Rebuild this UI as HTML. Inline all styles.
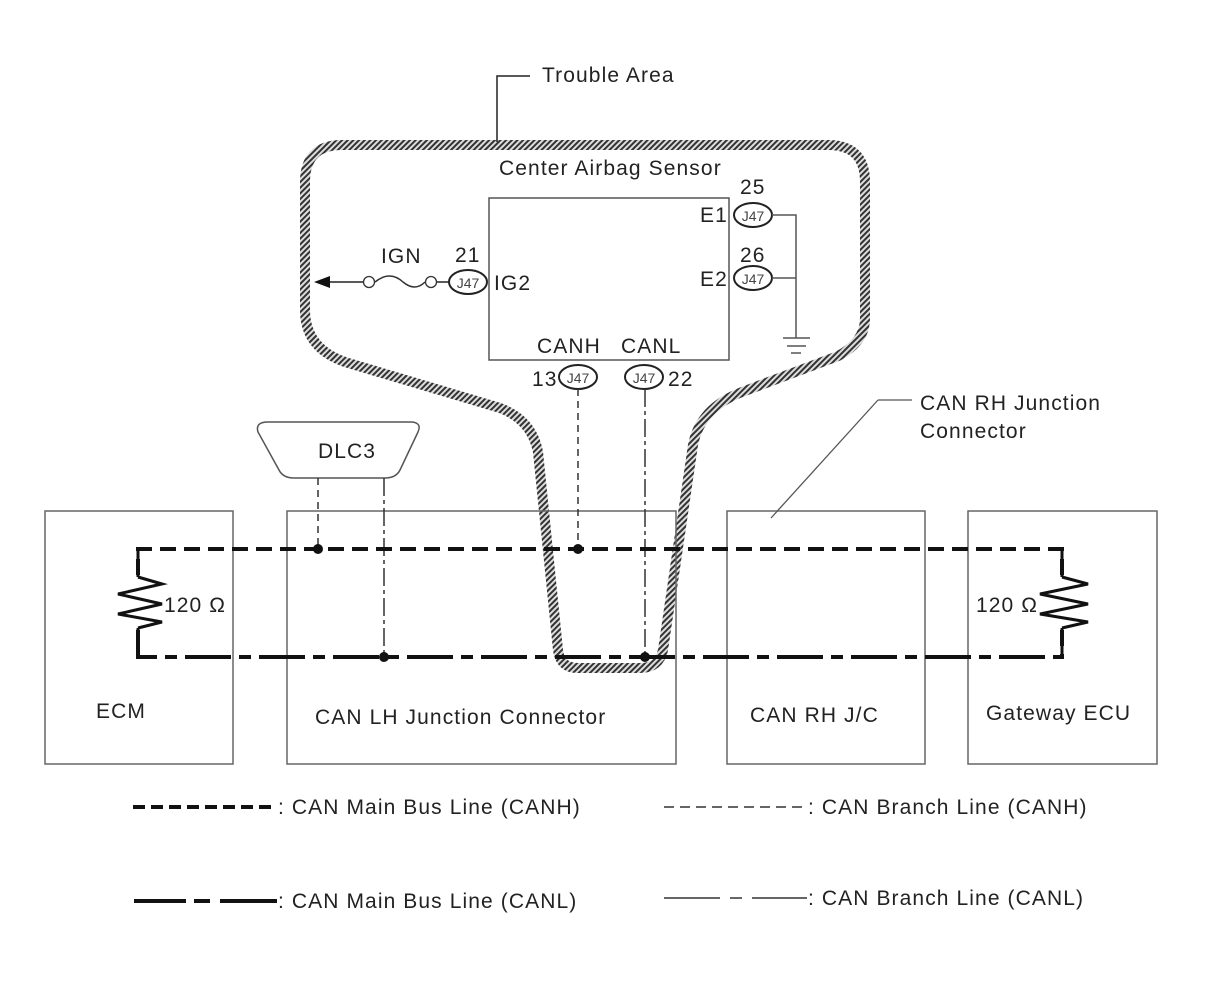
<!DOCTYPE html>
<html><head><meta charset="utf-8"><style>
html,body{margin:0;padding:0;background:#fff}
svg{display:block}
text{font-family:"Liberation Sans",sans-serif;fill:#222;font-size:21px;letter-spacing:1.1px}
text.j{font-size:14px;letter-spacing:0;fill:#444}
</style></head><body>
<svg width="1210" height="986" viewBox="0 0 1210 986" xmlns="http://www.w3.org/2000/svg">
<defs>
<pattern id="h" patternUnits="userSpaceOnUse" width="4" height="4" patternTransform="rotate(45)">
<rect width="4" height="4" fill="#ddd"/><rect width="2" height="4" fill="#333"/>
</pattern>
</defs>
<path d="M342,145 L828,145 Q865,145 865,182 L865,318 Q865,342 838,356 L742,392 Q700,408 693,445 L663,650 Q659,668 640,668 L578,668 Q560,668 558,650 L538,452 Q532,420 500,408 L345,362 Q305,348 305,310 L305,182 Q305,145 342,145 Z" fill="none" stroke="url(#h)" stroke-width="10"/>
<path d="M497,142 L497,76 L530,76" fill="none" stroke="#222" stroke-width="1.5"/>
<text x="542" y="82">Trouble Area</text>
<text x="499" y="175">Center Airbag Sensor</text>
<rect x="489" y="198" width="240" height="162" fill="none" stroke="#555" stroke-width="1.5"/>
<text x="381" y="263">IGN</text>
<text x="455" y="262">21</text>
<ellipse cx="468" cy="282" rx="19" ry="12" fill="#fff" stroke="#222" stroke-width="2"/>
<text class="j" x="468" y="288" text-anchor="middle">J47</text>
<text x="494" y="290">IG2</text>
<line x1="449" y1="282" x2="437" y2="282" stroke="#222" stroke-width="1.5"/>
<circle cx="431" cy="282" r="5.5" fill="#fff" stroke="#333" stroke-width="1.3"/>
<path d="M375,282 Q390,270 403,282 Q415,292 425,282" fill="none" stroke="#333" stroke-width="1.5"/>
<circle cx="369" cy="282" r="5.5" fill="#fff" stroke="#333" stroke-width="1.3"/>
<line x1="363" y1="282" x2="325" y2="282" stroke="#222" stroke-width="1.5"/>
<path d="M314,282 L330,276 L330,288 Z" fill="#111"/>
<text x="740" y="194">25</text>
<text x="700" y="222">E1</text>
<ellipse cx="753" cy="215" rx="19" ry="12" fill="#fff" stroke="#222" stroke-width="2"/>
<text class="j" x="753" y="221" text-anchor="middle">J47</text>
<text x="740" y="262">26</text>
<text x="700" y="286">E2</text>
<ellipse cx="753" cy="278" rx="19" ry="12" fill="#fff" stroke="#222" stroke-width="2"/>
<text class="j" x="753" y="284" text-anchor="middle">J47</text>
<path d="M772,215 L796,215 L796,338 M772,278 L796,278" fill="none" stroke="#555" stroke-width="1.5"/>
<path d="M783,338 L810,338 M787,346 L806,346 M791,353 L801,353" stroke="#555" stroke-width="1.5"/>
<text x="537" y="353">CANH</text>
<text x="621" y="353">CANL</text>
<text x="532" y="386">13</text>
<ellipse cx="578" cy="377" rx="19" ry="12" fill="#fff" stroke="#222" stroke-width="2"/>
<text class="j" x="578" y="383" text-anchor="middle">J47</text>
<ellipse cx="644" cy="377" rx="19" ry="12" fill="#fff" stroke="#222" stroke-width="2"/>
<text class="j" x="644" y="383" text-anchor="middle">J47</text>
<text x="668" y="386">22</text>
<g fill="none" stroke="#666" stroke-width="1.5">
<rect x="45" y="511" width="188" height="253"/>
<rect x="287" y="511" width="389" height="253"/>
<rect x="727" y="511" width="198" height="253"/>
<rect x="968" y="511" width="189" height="253"/>
</g>
<text x="96" y="718">ECM</text>
<text x="315" y="724">CAN LH Junction Connector</text>
<text x="750" y="722">CAN RH J/C</text>
<text x="986" y="720">Gateway ECU</text>
<line x1="771" y1="518" x2="878" y2="400" stroke="#555" stroke-width="1.3"/>
<line x1="878" y1="400" x2="912" y2="400" stroke="#555" stroke-width="1.3"/>
<text x="920" y="410">CAN RH Junction</text>
<text x="920" y="438">Connector</text>
<path d="M268,422 L412,422 Q422,423 418,432 L400,470 Q396,478 385,478 L294,478 Q283,478 279,470 L258,432 Q255,422 268,422 Z" fill="#fff" stroke="#555" stroke-width="1.5"/>
<text x="318" y="458">DLC3</text>
<line x1="318" y1="478" x2="318" y2="549" stroke="#333" stroke-width="1.5" stroke-dasharray="7,5"/>
<line x1="384" y1="478" x2="384" y2="657" stroke="#333" stroke-width="1.5" stroke-dasharray="18,4,4,4"/>
<line x1="578" y1="389" x2="578" y2="549" stroke="#333" stroke-width="1.5" stroke-dasharray="7,5"/>
<line x1="645" y1="389" x2="645" y2="657" stroke="#333" stroke-width="1.5" stroke-dasharray="18,4,4,4"/>
<path d="M138,575 L138,549 L1062,549 L1062,575" fill="none" stroke="#111" stroke-width="4" stroke-dasharray="16,8"/>
<path d="M138,630 L138,657 L1062,657 L1062,630" fill="none" stroke="#111" stroke-width="4" stroke-dasharray="46,8,12,8"/>
<path d="M138,549 L138,577 M138,628 L138,657 M1062,549 L1062,577 M1062,628 L1062,657" stroke="#111" stroke-width="3"/>
<path d="M138,577 L162,584 L118,594 L162,604 L118,614 L162,622 L138,628" fill="none" stroke="#111" stroke-width="3"/>
<path d="M1062,577 L1088,584 L1040,594 L1088,604 L1040,614 L1088,622 L1062,628" fill="none" stroke="#111" stroke-width="3"/>
<text x="164" y="612">120 Ω</text>
<text x="976" y="612">120 Ω</text>
<circle cx="318" cy="549" r="5" fill="#111"/>
<circle cx="578" cy="549" r="5" fill="#111"/>
<circle cx="384" cy="657" r="5" fill="#111"/>
<circle cx="645" cy="657" r="5" fill="#111"/>
<line x1="133" y1="807" x2="277" y2="807" stroke="#111" stroke-width="4" stroke-dasharray="12,6"/>
<text x="278" y="814">: CAN Main Bus Line (CANH)</text>
<line x1="664" y1="807" x2="807" y2="807" stroke="#333" stroke-width="1.5" stroke-dasharray="10,6"/>
<text x="808" y="814">: CAN Branch Line (CANH)</text>
<path d="M134,901 L186,901 M194,901 L210,901 M220,901 L277,901" stroke="#111" stroke-width="4"/>
<text x="278" y="908">: CAN Main Bus Line (CANL)</text>
<path d="M664,898 L720,898 M730,898 L742,898 M752,898 L807,898" stroke="#333" stroke-width="1.5"/>
<text x="808" y="905">: CAN Branch Line (CANL)</text>
</svg>
</body></html>
